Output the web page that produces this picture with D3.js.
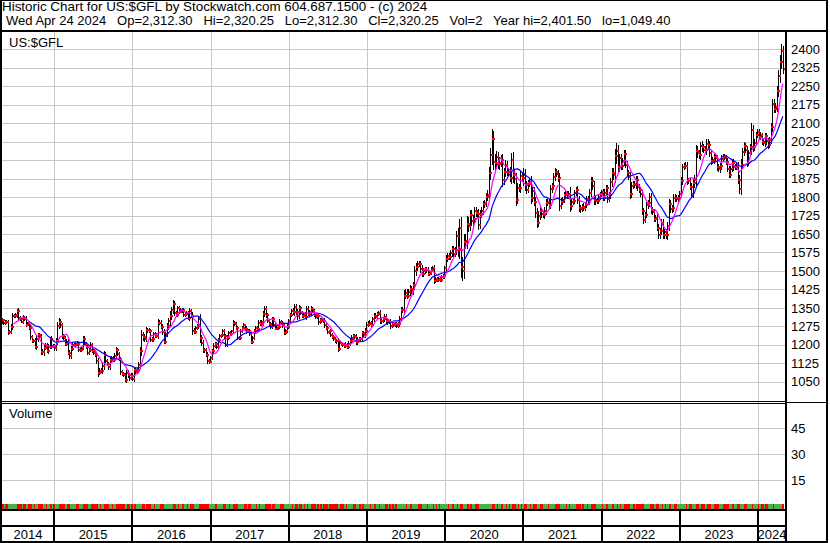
<!DOCTYPE html>
<html><head><meta charset="utf-8">
<script src="https://cdn.jsdelivr.net/npm/d3@7"></script>
<style>
body{margin:0;background:#fff}
svg{display:block}
text{font-family:"Liberation Sans",Arial,sans-serif;font-size:13px;fill:#000}
</style>
</head><body><svg id="c" width="830" height="543"></svg>
<script>
// ---------------- DATA ----------------
const title1 = "Historic Chart for US:$GFL by Stockwatch.com 604.687.1500 - (c) 2024";
const title2 = "Wed Apr 24 2024   Op=2,312.30   Hi=2,320.25   Lo=2,312.30   Cl=2,320.25   Vol=2   Year hi=2,401.50   lo=1,049.40";
const symbolLabel = "US:$GFL";
const volumeLabel = "Volume";
const years = [2014,2015,2016,2017,2018,2019,2020,2021,2022,2023,2024];
const yearLabels = ["2014","2015","2016","2017","2018","2019","2020","2021","2022","2023","2024"];
const priceTicks = [1050,1125,1200,1275,1350,1425,1500,1575,1650,1725,1800,1875,1950,2025,2100,2175,2250,2325,2400];
const volumeTicks = [15,30,45];
const firstOpen = 1292;

// weekly closes (one per Friday)
const c2014 = [1300,1288,1293,1292,1250, 1253,1274,1316,1316, 1320,1337,1310,1303, 1294,1310,1305,1281,1287, 1268,1231,1216,1217, 1192,1222,1238,1231,1171, 1169,1187,1197,1175, 1191,1222,1195,1195];
const c2015 = [1186,1216,1277,1293,1279, 1234,1227,1204,1213, 1167,1153,1184,1199, 1201,1204,1203,1178, 1179,1188,1225,1205,1190, 1168,1180,1201,1173, 1168,1158,1133,1086,1095, 1094,1113,1160,1134, 1122,1109,1137,1146, 1138,1155,1177,1163,1142, 1088,1081,1076,1057, 1086,1076,1065,1075];
const c2016 = [1061,1097,1090,1097,1116, 1173,1239,1230,1222, 1260,1259,1255,1221, 1222,1243,1235,1237,1290, 1290,1273,1252,1213, 1243,1275,1295,1316, 1340,1366,1328,1322,1350, 1335,1341,1341,1321, 1326,1328,1310,1337,1316, 1257,1252,1267,1275, 1304,1226,1208,1178, 1177,1160,1134,1131,1146];
const c2017 = [1173,1196,1204,1190, 1220,1234,1238,1257, 1234,1201,1229,1248,1245, 1254,1287,1285,1268, 1228,1228,1254,1267, 1279,1266,1255,1256,1242, 1212,1228,1254,1268, 1264,1290,1285,1291, 1325,1347,1320,1297,1283, 1274,1304,1280,1266, 1270,1274,1294,1288, 1279,1248,1256,1274,1296];
const c2018 = [1320,1338,1332,1352, 1333,1315,1350,1330, 1317,1324,1314,1347,1325, 1332,1345,1337,1322, 1314,1318,1291,1302, 1296,1298,1279,1268,1252, 1254,1241,1231,1223, 1215,1214,1184,1206,1201, 1198,1196,1201,1191, 1204,1217,1228,1234, 1232,1210,1221,1223,1222, 1247,1238,1257,1281];
const c2019 = [1285,1290,1282,1304, 1318,1314,1323,1331, 1295,1298,1303,1314,1295, 1291,1293,1276,1284, 1280,1285,1278,1284,1306, 1341,1342,1400,1412, 1400,1415,1428,1418, 1441,1498,1514,1528,1526, 1508,1488,1500,1503, 1504,1489,1491,1505, 1510,1460,1468,1463,1466, 1462,1476,1478,1511];
const c2020 = [1549,1560,1557,1571,1589, 1570,1584,1643,1585, 1674,1516,1498,1618, 1620,1692,1683,1729, 1702,1710,1744,1734,1730, 1685,1730,1743,1771, 1775,1800,1810,1898,1970, 2035,1944,1940,1962, 1934,1940,1950,1868, 1900,1930,1900,1902,1879, 1951,1889,1872,1788, 1837,1836,1886,1876];
const c2021 = [1888,1849,1829,1854,1863, 1795,1823,1780,1734, 1696,1724,1742,1730, 1728,1743,1777,1778,1769, 1831,1844,1881,1902, 1892,1877,1764,1781, 1787,1808,1813,1802,1814, 1763,1780,1782,1817, 1828,1789,1754,1750, 1760,1757,1767,1793,1783, 1818,1865,1846,1789, 1783,1783,1799,1811,1820];
const c2022 = [1797,1817,1835,1791, 1807,1860,1898,1889, 1966,1988,1921,1958, 1925,1945,1974,1932,1896, 1883,1811,1846,1853, 1850,1871,1839,1827, 1811,1742,1706,1727,1766, 1775,1802,1747,1738, 1712,1716,1675,1644,1661, 1695,1644,1656,1645, 1681,1771,1751,1755, 1798,1797,1793,1798,1813];
const c2023 = [1866,1920,1926,1928, 1865,1865,1842,1811, 1856,1868,1988,1977,1969, 2006,2003,1993,1990, 2017,2012,1978,1945, 1949,1961,1958,1921,1912, 1925,1955,1962,1960, 1943,1914,1889,1915, 1940,1920,1924,1925,1870, 1832,1932,1981,2006, 1993,1940,1980,2002, 2072,2004,2019,2053,2063];
const c2024 = [2045,2050,2025,2018, 2047,2026,2011,2032, 2083,2179,2159,2164,2230, 2290,2350,2392,2320];

// weekly extra range beyond open/close (high/low wick)
const e2014 = [8,6,7,9,10, 8,9,12,7, 9,10,12,8, 7,9,8,10,6, 8,12,9,7, 10,12,9,8,14, 12,15,9,10, 11,9,12,8];
const e2015 = [10,12,15,14,12, 10,9,8,10, 9,10,12,9, 8,9,10,8, 7,9,11,10,8, 9,8,10,7, 8,7,10,15,9, 10,12,14,9, 8,10,12,9, 9,10,12,10,8, 10,8,7,9, 12,10,11,9];
const e2016 = [10,12,9,10,12, 16,20,14,12, 12,10,9,11, 9,10,8,9,14, 10,9,12,11, 10,12,14,20, 14,16,10,9,8, 9,8,10,9, 8,10,9,12,9, 18,10,9,8, 12,20,12,10, 9,10,12,8,7];
const e2017 = [9,10,8,9, 8,9,7,8, 9,10,12,9,8, 8,12,10,9, 10,8,9,8, 9,7,10,8,7, 9,8,9,10, 8,12,9,8, 14,12,10,8,9, 8,10,9,8, 7,8,9,8, 9,10,8,9,10];
const e2018 = [10,9,12,14, 12,13,10,9, 9,10,8,12,9, 8,12,9,10, 8,9,10,8, 7,9,10,8,7, 8,9,7,8, 8,9,12,9,7, 7,8,9,7, 10,9,12,9, 8,10,9,8,7, 10,9,12,10];
const e2019 = [10,9,8,10, 12,9,10,8, 10,9,8,10,9, 9,8,10,9, 8,9,8,10,12, 14,12,22,16, 14,12,15,12, 14,20,18,14,12, 16,14,13,12, 12,11,10,9, 10,14,9,8,9, 8,9,8,10];
const e2020 = [14,12,13,12,14, 12,14,20,30, 35,45,40,30, 28,30,25,20, 20,18,16,15,14, 20,16,15,14, 14,15,18,22,28, 40,35,30,25, 22,24,20,26, 18,20,16,15,18, 26,30,20,24, 18,16,20,15];
const e2021 = [30,24,16,14,14, 22,16,18,20, 22,18,16,15, 14,16,14,12,13, 16,14,15,14, 12,16,20,14, 12,13,12,10,12, 25,14,12,11, 12,18,14,13, 12,14,12,10,11, 14,18,16,20, 14,12,12,11,10];
const e2022 = [12,14,12,14, 13,16,18,20, 30,30,24,18, 16,14,18,16,15, 14,18,14,13, 12,16,14,12, 12,16,14,13,12, 14,16,15,12, 12,13,14,16,14, 16,14,13,14, 18,20,16,14, 14,16,13,12,11];
const e2023 = [14,16,12,13, 15,12,12,14, 16,20,24,18,16, 18,20,14,13, 18,20,16,14, 12,13,12,14,12, 13,15,12,11, 12,14,12,13, 12,13,12,14,16, 18,24,20,16, 14,16,13,14, 30,20,16,13,12];
const e2024 = [14,13,12,12, 14,13,14,12, 16,20,18,16,20, 24,28,30,20];

// weekly volume
const v2014 = [1,1,1,1,1,1,1,1,1,1, 1,1,1,1,1,1,1,1,1,1, 1,1,1,1,1,1,1,1,1,1, 1,1,1,1,1];
const v2015 = [1,1,1,1,1,1,1,1,1,1, 1,1,1,1,1,1,1,1,1,1, 1,1,1,1,1,1,1,1,1,1, 1,1,1,1,1,1,1,1,1,1, 1,1,1,1,1,1,1,1,1,1, 1,1];
const v2016 = [1,1,1,1,1,1,1,1,1,1, 1,1,1,1,1,1,1,1,1,1, 1,1,1,1,1,1,1,1,1,1, 1,1,1,1,1,1,1,1,1,1, 1,1,1,1,1,1,1,1,1,1, 1,1,1];
const v2017 = [1,1,1,1,1,1,1,1,1,1, 1,1,1,1,1,1,1,1,1,1, 1,1,1,1,1,1,1,1,1,1, 1,1,1,1,1,1,1,1,1,1, 1,1,1,1,1,1,1,1,1,1, 1,1];
const v2018 = [1,1,1,1,1,1,1,1,1,1, 1,1,1,1,1,1,1,1,1,1, 1,1,1,1,1,1,1,1,1,1, 1,1,1,1,1,1,1,1,1,1, 1,1,1,1,1,1,1,1,1,1, 1,1];
const v2019 = [1,1,1,1,1,1,1,1,1,1, 1,1,1,1,1,1,1,1,1,1, 1,1,1,1,1,1,1,1,1,1, 1,1,1,1,1,1,1,1,1,1, 1,1,1,1,1,1,1,1,1,1, 1,1];
const v2020 = [1,1,1,1,1,1,1,1,1,1, 1,1,1,1,1,1,1,1,1,1, 1,1,1,1,1,1,1,1,1,1, 1,1,1,1,1,1,1,1,1,1, 1,1,1,1,1,1,1,1,1,1, 1,1];
const v2021 = [1,1,1,1,1,1,1,1,1,1, 1,1,1,1,1,1,1,1,1,1, 1,1,1,1,1,1,1,1,1,1, 1,1,1,1,1,1,1,1,1,1, 1,1,1,1,1,1,1,1,1,1, 1,1,1];
const v2022 = [1,1,1,1,1,1,1,1,1,1, 1,1,1,1,1,1,1,1,1,1, 1,1,1,1,1,1,1,1,1,1, 1,1,1,1,1,1,1,1,1,1, 1,1,1,1,1,1,1,1,1,1, 1,1];
const v2023 = [1,1,1,1,1,1,1,1,1,1, 1,1,1,1,1,1,1,1,1,1, 1,1,1,1,1,1,1,1,1,1, 1,1,1,1,1,1,1,1,1,1, 1,1,1,1,1,1,1,1,1,1, 1,1];
const v2024 = [1,1,1,1,1,1,1,1,1,1, 1,1,1,1,1,1,1];

const closesByYear = [c2014,c2015,c2016,c2017,c2018,c2019,c2020,c2021,c2022,c2023,c2024];
const extByYear = [e2014,e2015,e2016,e2017,e2018,e2019,e2020,e2021,e2022,e2023,e2024];
const volByYear = [v2014,v2015,v2016,v2017,v2018,v2019,v2020,v2021,v2022,v2023,v2024];
const maShort = 8, maLong = 20;

// ---------------- BUILD ----------------
const bars = [];
years.forEach((yr,k)=>{
  const first = yr===2014 ? new Date(2014,4,2) : d3.timeFriday.ceil(new Date(yr,0,1));
  closesByYear[k].forEach((c,j)=>{
    bars.push({date:d3.timeDay.offset(first,7*j), close:c, ext:extByYear[k][j]||8, vol:volByYear[k][j]||1});
  });
});
bars.forEach((b,i)=>{
  b.open = i ? bars[i-1].close : firstOpen;
  b.high = Math.max(b.open,b.close)+b.ext;
  b.low = Math.min(b.open,b.close)-b.ext;
});
function sma(n){
  const out=[];
  for(let i=n-1;i<bars.length;i++){
    const s=d3.sum(bars.slice(i-n+1,i+1),d=>d.close);
    out.push({date:bars[i].date,v:s/n});
  }
  return out;
}

// ---------------- SCALES ----------------
const L=2, R=786, PT=32, PB=400, VT=403, VB=509;
const x = d3.scaleTime().domain([new Date(2015,0,1),new Date(2024,0,1)]).range([54,758]);
const y = d3.scaleLinear().domain([1050,2400]).range([381.7,49.3]);
const yv = d3.scaleLinear().domain([0,45]).range([506,428.3]);

const svg = d3.select("#c");
svg.append("rect").attr("width",830).attr("height",543).attr("fill","#fff");

const defs = svg.append("defs");
defs.append("clipPath").attr("id","pclip").append("rect").attr("x",L).attr("y",PT).attr("width",R-L-1).attr("height",PB-PT);

const yearStarts = years.slice(1).map(yr=>new Date(yr,0,1));
const grid = svg.append("g").attr("stroke","#c8c8c8").attr("stroke-width",1).attr("shape-rendering","crispEdges");
grid.selectAll(".vg").data(yearStarts).join("line")
  .attr("x1",d=>Math.round(x(d))+0.5).attr("x2",d=>Math.round(x(d))+0.5)
  .attr("y1",PT).attr("y2",VB);
grid.selectAll(".hg").data(priceTicks).join("line")
  .attr("x1",L).attr("x2",R).attr("y1",d=>Math.round(y(d))+0.5).attr("y2",d=>Math.round(y(d))+0.5);
grid.selectAll(".vvg").data(volumeTicks).join("line")
  .attr("x1",L).attr("x2",R).attr("y1",d=>Math.round(yv(d))+0.5).attr("y2",d=>Math.round(yv(d))+0.5);

// price bars
const pg = svg.append("g").attr("clip-path","url(#pclip)");
pg.append("g").attr("stroke","#000").attr("stroke-width",1).attr("shape-rendering","crispEdges")
  .selectAll("line").data(bars).join("line")
  .attr("x1",d=>Math.round(x(d.date))+0.5).attr("x2",d=>Math.round(x(d.date))+0.5)
  .attr("y1",d=>y(d.high)).attr("y2",d=>y(d.low));
const ticks = pg.append("g").attr("fill","#ff0000").attr("shape-rendering","crispEdges");
ticks.selectAll(".op").data(bars).join("rect")
  .attr("x",d=>Math.round(x(d.date))-1).attr("y",d=>Math.round(y(d.open))-1)
  .attr("width",1).attr("height",2);
ticks.selectAll(".cl").data(bars).join("rect")
  .attr("x",d=>Math.round(x(d.date))+1).attr("y",d=>Math.round(y(d.close))-1)
  .attr("width",2).attr("height",2);

const line = d3.line().x(d=>x(d.date)).y(d=>y(d.v));
pg.append("path").datum(sma(maLong)).attr("d",line).attr("fill","none").attr("stroke","#0000ff").attr("stroke-width",1.2);
pg.append("path").datum(sma(maShort)).attr("d",line).attr("fill","none").attr("stroke","#ff00ff").attr("stroke-width",1.2);

// volume bars
svg.append("g").attr("shape-rendering","crispEdges")
  .selectAll("rect").data(bars).join("rect")
  .attr("x",d=>Math.round(x(d.date))-1).attr("width",2)
  .attr("y",d=>yv(d.vol)).attr("height",d=>VB-yv(d.vol))
  .attr("fill",d=>d.close>=d.open?"#4caf50":"#ff0000");

// ---------------- FRAME ----------------
const fr = svg.append("g").attr("stroke","#000").attr("shape-rendering","crispEdges");
const blk = (x0,y0,w,h)=>fr.append("rect").attr("x",x0).attr("y",y0).attr("width",w).attr("height",h).attr("fill","#000").attr("stroke","none");
blk(0,0,828,1);
blk(0,30,828,2);
blk(0,0,2,543);
blk(826,0,2,543);
blk(0,541,828,2);
blk(785,31,2,512);
blk(0,401,R,1);
blk(0,403,R,1);
blk(R,402,42,1);
blk(0,509,R,2);
blk(0,525,R,2);
fr.selectAll(".ys").data(yearStarts).join("rect")
  .attr("x",d=>Math.round(x(d))-1).attr("y",510).attr("width",2).attr("height",32)
  .attr("fill","#000").attr("stroke","none");

// ---------------- TEXT ----------------
svg.append("text").attr("x",2).attr("y",11).style("white-space","pre").style("font-size","13.4px").text(title1);
svg.append("text").attr("x",6).attr("y",25).style("white-space","pre").text(title2);
svg.append("text").attr("x",9).attr("y",47).text(symbolLabel);
svg.append("text").attr("x",9).attr("y",418).text(volumeLabel);
svg.append("g").selectAll("text").data(priceTicks).join("text")
  .attr("x",791).attr("y",d=>y(d)).attr("dy","0.36em").text(d=>d);
svg.append("g").selectAll("text").data(volumeTicks).join("text")
  .attr("x",791).attr("y",d=>yv(d)).attr("dy","0.36em").text(d=>d);
const bounds = [L].concat(yearStarts.map(d=>x(d))).concat([R]);
svg.append("g").selectAll("text").data(yearLabels).join("text")
  .attr("x",(d,i)=>(bounds[i]+bounds[i+1])/2).attr("y",539).attr("text-anchor","middle").text(d=>d);
</script>
</body></html>
